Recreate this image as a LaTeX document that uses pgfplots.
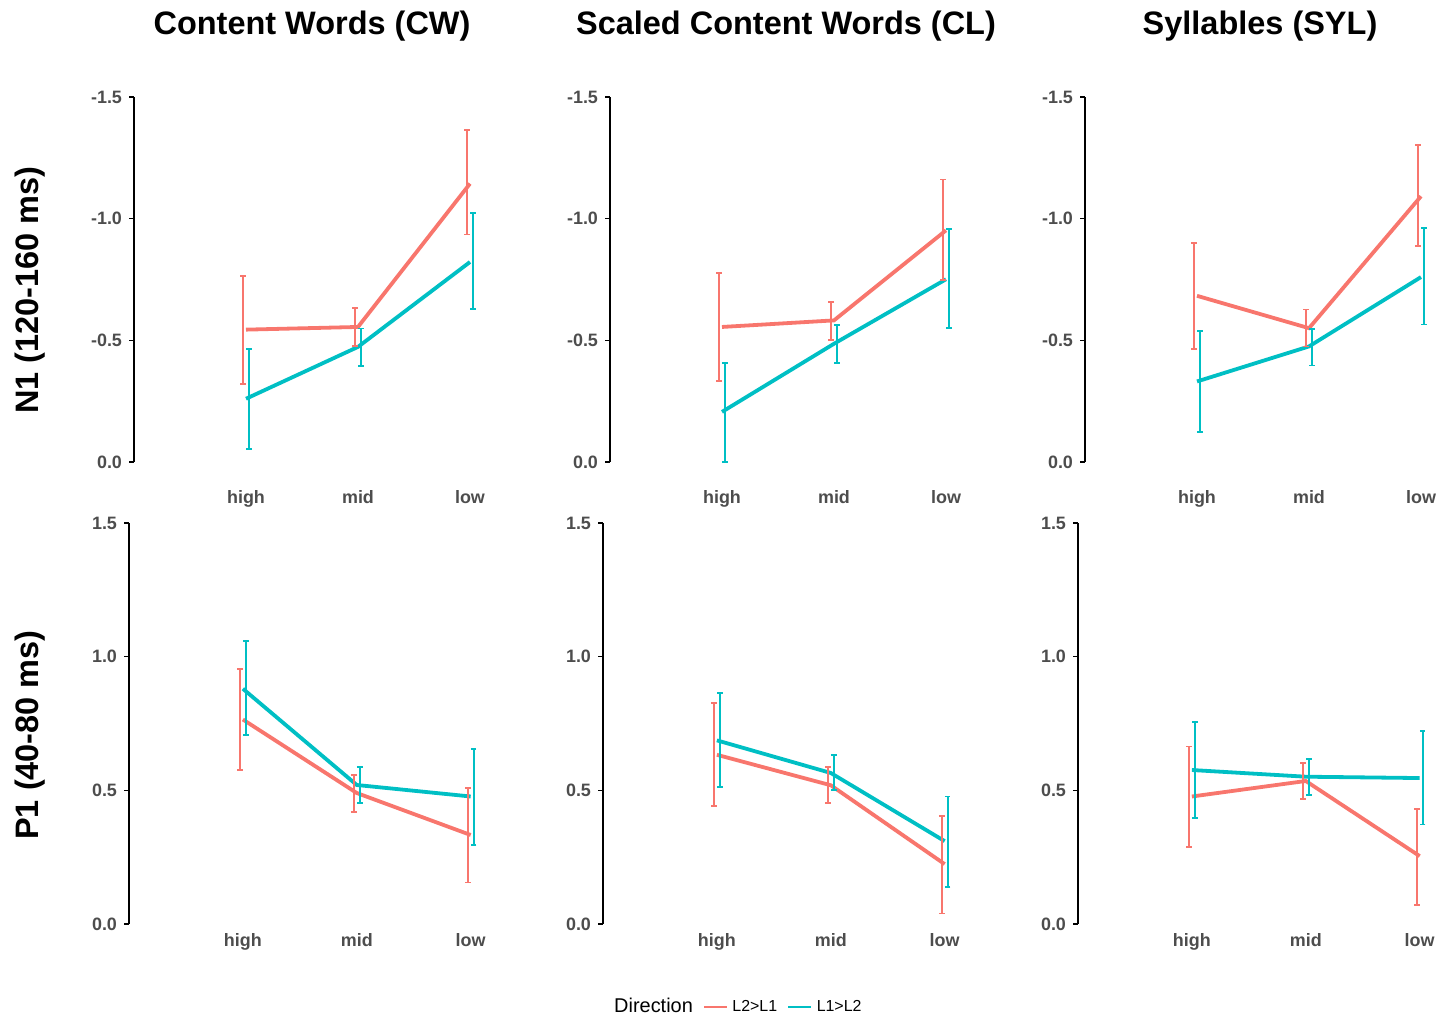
\documentclass[border=0pt]{standalone}
\usepackage{pgfplots}
\pgfplotsset{compat=1.18}
\usepackage{fontspec}
\setmainfont{Liberation Sans}
\definecolor{cred}{HTML}{F8766D}
\definecolor{ccyan}{HTML}{00BFC4}
\definecolor{tickgray}{HTML}{4D4D4D}

\pgfplotsset{
  panel/.style={
    scale only axis,
    axis lines*=left,
    x axis line style={draw=none},
    y axis line style={line width=0.75bp, black},
    xmin=0, xmax=3.6,
    xtick={1,2,3},
    xticklabels={high,mid,low},
    xtick style={draw=none},
    ytick style={line width=0.75bp, black},
    tick align=outside,
    major tick length=2.5bp,
    tick label style={font=\fontsize{9}{10}\selectfont\bfseries, text=tickgray},
    /pgf/number format/assume math mode=true,
    yticklabel style={/pgf/number format/fixed, /pgf/number format/fixed zerofill, /pgf/number format/precision=1},
    clip=false,
    anchor=south west,
  },
  toprow/.style={panel, width=201.6bp, height=182.5bp, ymin=-1.5, ymax=0, y dir=reverse, ytick={-1.5,-1,-0.5,0}, xticklabel style={yshift=-8bp}},
  botrow/.style={panel, width=205bp, height=200.5bp, ymin=0, ymax=1.5, ytick={0,0.5,1,1.5}, xticklabel style={yshift=1.5bp}},
  mline/.style={line width=1.9bp, mark=none, forget plot},
  ebar/.style={draw=none, mark=none, forget plot, error bars/.cd, y dir=both, y explicit, error bar style={line width=0.9bp, draw=#1, solid}, error mark options={rotate=90, mark size=1.4bp, line width=0.9bp, draw=#1, solid}},
}

\begin{document}
\begin{tikzpicture}
\path[use as bounding box] (0,0) rectangle (724.5bp,-507bp);

% titles
\node[font=\fontsize{16.3}{19}\selectfont\bfseries] at (156bp,-13bp) {Content Words (CW)};
\node[font=\fontsize{16.3}{19}\selectfont\bfseries] at (393bp,-13bp) {Scaled Content Words (CL)};
\node[font=\fontsize{16.3}{19}\selectfont\bfseries] at (630bp,-13bp) {Syllables (SYL)};
\node[font=\fontsize{16.3}{19}\selectfont\bfseries, rotate=90] at (15bp,-145bp) {N1 (120-160 ms)};
\node[font=\fontsize{16.3}{19}\selectfont\bfseries, rotate=90] at (15bp,-367.5bp) {P1 (40-80 ms)};

% ---------- Top row: N1 ----------
\begin{axis}[toprow, at={(67bp,-231bp)}]
\addplot[mline, cred] coordinates {(1,-0.544) (2,-0.555) (3,-1.144)};
\addplot[mline, ccyan] coordinates {(1,-0.260) (2,-0.473) (3,-0.822)};
\addplot[ebar=cred] coordinates {(0.973,-0.544) +- (0,0.222) (1.973,-0.555) +- (0,0.078) (2.973,-1.150) +- (0,0.215)};
\addplot[ebar=ccyan] coordinates {(1.027,-0.259) +- (0,0.204) (2.027,-0.471) +- (0,0.078) (3.027,-0.826) +- (0,0.197)};
\end{axis}

\begin{axis}[toprow, at={(305bp,-231bp)}]
\addplot[mline, cred] coordinates {(1,-0.555) (2,-0.582) (3,-0.952)};
\addplot[mline, ccyan] coordinates {(1,-0.206) (2,-0.486) (3,-0.751)};
\addplot[ebar=cred] coordinates {(0.973,-0.555) +- (0,0.222) (1.973,-0.581) +- (0,0.078) (2.973,-0.955) +- (0,0.206)};
\addplot[ebar=ccyan] coordinates {(1.027,-0.204) +- (0,0.204) (2.027,-0.485) +- (0,0.077) (3.027,-0.755) +- (0,0.203)};
\end{axis}

\begin{axis}[toprow, at={(542.5bp,-231bp)}]
\addplot[mline, cred] coordinates {(1,-0.683) (2,-0.550) (3,-1.092)};
\addplot[mline, ccyan] coordinates {(1,-0.331) (2,-0.475) (3,-0.760)};
\addplot[ebar=cred] coordinates {(0.973,-0.683) +- (0,0.217) (1.973,-0.551) +- (0,0.076) (2.973,-1.096) +- (0,0.208)};
\addplot[ebar=ccyan] coordinates {(1.027,-0.331) +- (0,0.209) (2.027,-0.472) +- (0,0.075) (3.027,-0.764) +- (0,0.199)};
\end{axis}

% ---------- Bottom row: P1 ----------
\begin{axis}[botrow, at={(64.5bp,-462bp)}]
\addplot[mline, cred] coordinates {(1,0.765) (2,0.490) (3,0.333)};
\addplot[mline, ccyan] coordinates {(1,0.880) (2,0.520) (3,0.477)};
\addplot[ebar=cred] coordinates {(0.974,0.766) +- (0,0.189) (1.974,0.488) +- (0,0.068) (2.974,0.332) +- (0,0.177)};
\addplot[ebar=ccyan] coordinates {(1.026,0.883) +- (0,0.176) (2.026,0.521) +- (0,0.067) (3.026,0.476) +- (0,0.180)};
\end{axis}

\begin{axis}[botrow, at={(301.5bp,-462bp)},
  legend columns=-1,
  legend style={at={(0.329,-0.207)}, anchor=center, draw=none, fill=none,
    font=\fontsize{8}{9.6}\selectfont, inner sep=0pt,
    /tikz/every odd column/.append style={column sep=0bp},
    /tikz/every even column/.append style={column sep=3bp}},
  legend image code/.code={\draw[#1] (0bp,0bp) -- (11.5bp,0bp);},
]
\addlegendimage{empty legend}\addlegendentry{\fontsize{10}{12}\selectfont Direction}
\addlegendimage{cred, line width=1.3bp}\addlegendentry{L2>L1}
\addlegendimage{ccyan, line width=1.3bp}\addlegendentry{L1>L2}
\addplot[mline, cred] coordinates {(1,0.633) (2,0.519) (3,0.224)};
\addplot[mline, ccyan] coordinates {(1,0.687) (2,0.565) (3,0.310)};
\addplot[ebar=cred] coordinates {(0.974,0.635) +- (0,0.193) (1.974,0.520) +- (0,0.068) (2.974,0.222) +- (0,0.183)};
\addplot[ebar=ccyan] coordinates {(1.026,0.688) +- (0,0.176) (2.026,0.566) +- (0,0.066) (3.026,0.308) +- (0,0.169)};
\end{axis}

\begin{axis}[botrow, at={(539bp,-462bp)}]
\addplot[mline, cred] coordinates {(1,0.477) (2,0.535) (3,0.254)};
\addplot[mline, ccyan] coordinates {(1,0.576) (2,0.551) (3,0.546)};
\addplot[ebar=cred] coordinates {(0.974,0.476) +- (0,0.188) (1.974,0.535) +- (0,0.068) (2.974,0.251) +- (0,0.180)};
\addplot[ebar=ccyan] coordinates {(1.026,0.577) +- (0,0.180) (2.026,0.551) +- (0,0.067) (3.026,0.547) +- (0,0.175)};
\end{axis}
\end{tikzpicture}
\end{document}
